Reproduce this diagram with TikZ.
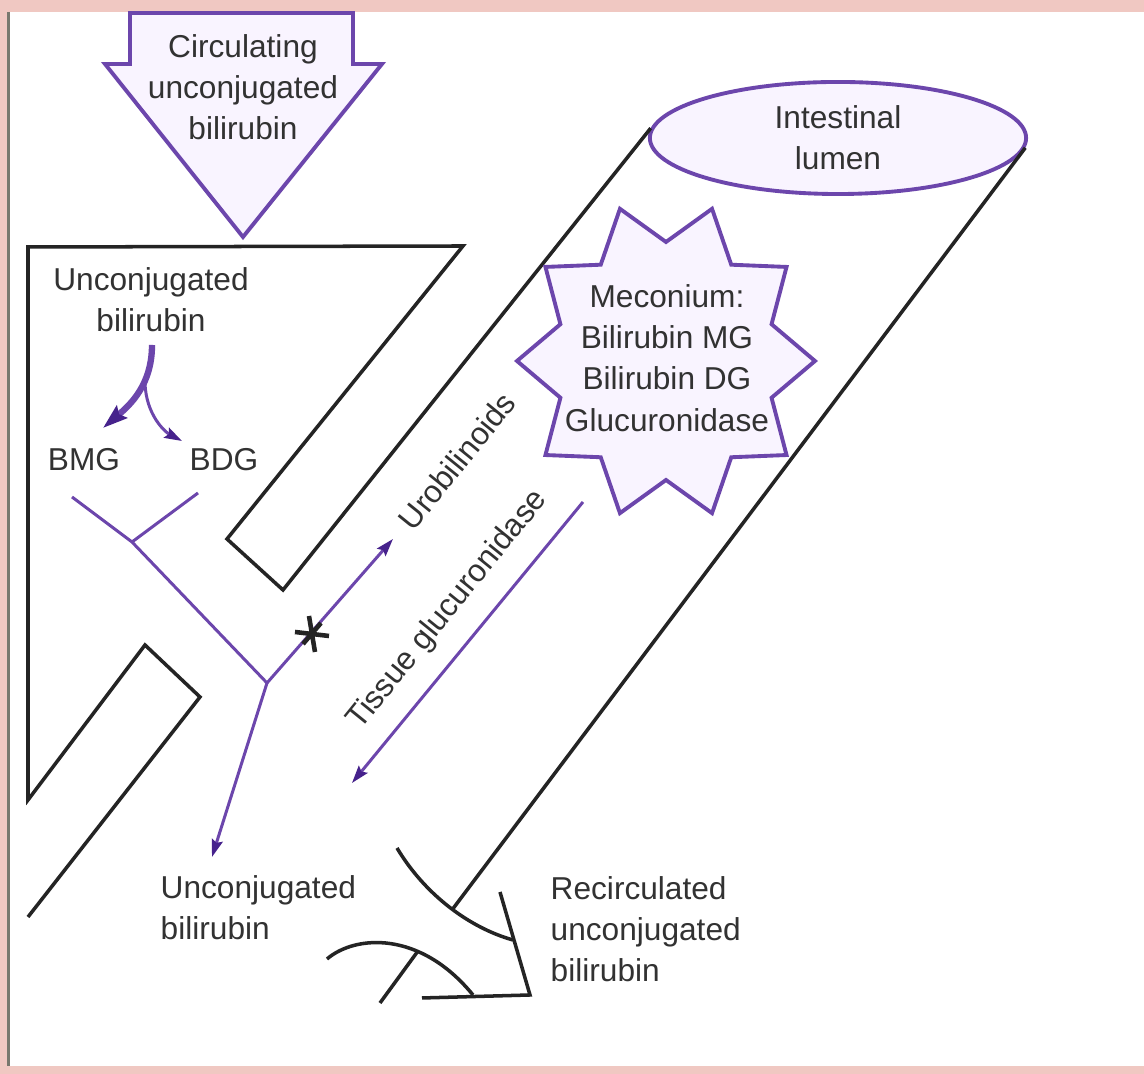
\documentclass[tikz,border=0pt]{standalone}
\usepackage{fontspec}
\setmainfont{Liberation Sans}
\usetikzlibrary{arrows.meta,shapes.geometric}

\definecolor{bilipurple}{RGB}{108,70,172}
\definecolor{tipurple}{RGB}{70,34,140}
\definecolor{lavender}{RGB}{249,244,255}
\definecolor{inkgray}{RGB}{50,50,50}
\definecolor{wallink}{RGB}{36,36,36}
\definecolor{framepink}{RGB}{240,200,194}
\definecolor{framegray}{RGB}{120,120,110}

\begin{document}
\begin{tikzpicture}[x=0.01cm, y=-0.01cm,
    >={Stealth[length=5pt, width=3.2pt, inset=0.8pt, color=tipurple]},
    wall/.style = {draw=wallink, line width=1pt},
    duct/.style = {draw=bilipurple, line width=0.85pt},
    sac/.style = {draw=bilipurple, line width=1.1pt, fill=lavender, line join=miter},
    lbl/.style = {text=inkgray, font=\fontsize{9}{11.7}\selectfont, align=center, inner sep=0pt}]

  \useasboundingbox (0,0) rectangle (1144,1074);
  \fill[framepink] (0,0) rectangle (1144,1074);
  \fill[white] (10,12) rectangle (1144,1066);
  \draw[framegray, line width=1pt] (8.5,12) -- (8.5,1066);

  % incoming arrow
  \draw[sac] (130,13) -- (353,13) -- (353,64) -- (382,64) -- (243,237) -- (105,64) -- (130,64) -- cycle;
  \node[lbl] (circ) at (243,87) {Circulating\\unconjugated\\bilirubin};

  % gut
  \node[sac, lbl, ellipse, minimum width=3.76cm, minimum height=1.12cm] (lumen) at (838,138) {Intestinal\\lumen};
  \draw[wall] (28,917) -- (200,697) -- (145,645) -- (28,800) -- (28,247) -- (463,246) -- (227,539) -- (283,590) -- (lumen.177);
  \draw[wall] (lumen.357) -- (452,910);
  \draw[sac, shift={(666,361)}] (0:149 and 160)
    \foreach \a in {18,54,...,306} { -- (\a:111 and 119) -- (\a+18:149 and 160) } -- (342:111 and 119) -- cycle;
  \node[lbl] (meco) at (667,358) {Meconium:\\Bilirubin MG\\Bilirubin DG\\Glucuronidase};

  % recirculation
  \draw[wall] (397,848) .. controls (425,895) and (470,928) .. (513,940);
  \draw[wall] (500,892) -- (530,995) -- (422,998);
  \draw[wall] (327,959) .. controls (355,935) and (420,930) .. (473,995);
  \draw[wall] (418,951) -- (380,1003);

  % labels
  \node[lbl] (ub) at (151,300) {Unconjugated\\bilirubin};
  \node[lbl] (bmg) at (84,460) {BMG};
  \node[lbl] (bdg) at (224,460) {BDG};
  \node[lbl, rotate=51] (uro) at (457,461) {Urobilinoids};
  \node[lbl, rotate=51] (tissue) at (448,610) {Tissue glucuronidase};
  \node[lbl, align=left, anchor=west] (ub2) at (160,908) {Unconjugated\\bilirubin};
  \node[lbl, align=left, anchor=west] (recirc) at (550,929) {Recirculated\\unconjugated\\bilirubin};

  % conjugation
  \coordinate (ubfoot) at (152,345);
  \coordinate (split) at (145,383);
  \coordinate (mgtip) at (103,428);
  \coordinate (dgtip) at (182,441);
  \draw[duct, line width=1.8pt, -{Stealth[length=7pt, width=4.5pt, inset=1pt, color=tipurple]}] (ubfoot) .. controls (152,385) and (130,405) .. (mgtip);
  \draw[duct, ->] (split) .. controls (146,415) and (165,432) .. (dgtip);

  % ducts
  \coordinate (mgend) at (72,497);
  \coordinate (dgend) at (198,493);
  \coordinate (jy) at (132,542);
  \coordinate (jm) at (267,683);
  \coordinate (down) at (212,857);
  \coordinate (tg1) at (583,502);
  \coordinate (tg2) at (352,783);
  \coordinate (block) at (312,634);
  \draw[duct] (mgend) -- (jy) -- (jm);
  \draw[duct] (dgend) -- (jy);
  \draw[duct, ->, shorten >=5pt] (jm) -- (uro.west);
  \draw[duct, ->] (jm) -- (down);
  \draw[duct, ->] (tg1) -- (tg2);
  \draw[wallink, line width=1.3pt] (block) ++(-17,-2) -- ++(34,4) (block) ++(-3,-18) -- ++(6,36) (block) ++(-9,10) -- ++(18,-21);
\end{tikzpicture}
\end{document}
